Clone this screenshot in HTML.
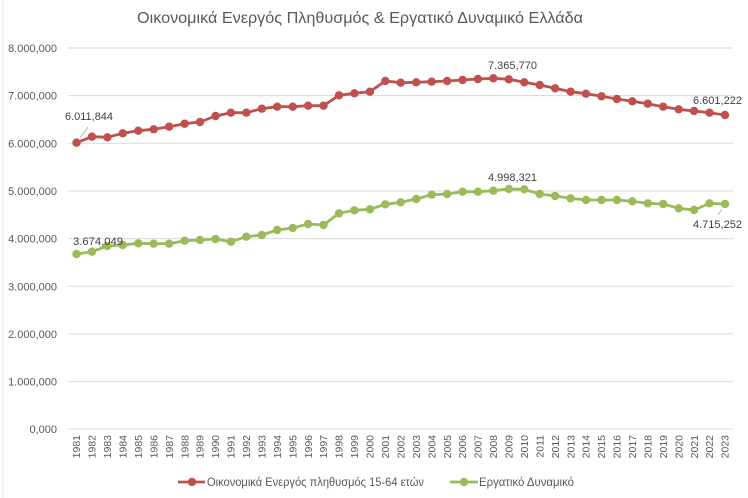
<!DOCTYPE html>
<html>
<head>
<meta charset="utf-8">
<style>
html,body{margin:0;padding:0;background:#fff;}
svg{display:block;}
text{font-family:"Liberation Sans","DejaVu Sans",sans-serif;}
</style>
</head>
<body>
<svg width="748" height="498" viewBox="0 0 748 498" xmlns="http://www.w3.org/2000/svg">
<defs>
<marker id="mr" markerUnits="userSpaceOnUse" markerWidth="10" markerHeight="10" refX="5" refY="5"><circle cx="5" cy="5" r="4.2" fill="#c0504d"/></marker>
<marker id="mg" markerUnits="userSpaceOnUse" markerWidth="10" markerHeight="10" refX="5" refY="5"><circle cx="5" cy="5" r="4.2" fill="#9bbb59"/></marker>
</defs>
<rect x="0" y="0" width="748" height="498" fill="#fff"/>
<line x1="3" y1="0" x2="3" y2="498" stroke="#e6e6e6" stroke-width="1"/>

<text x="360" y="23" text-anchor="middle" font-size="16" fill="#595959" textLength="446" lengthAdjust="spacingAndGlyphs">Οικονομικά Ενεργός Πληθυσμός &amp; Εργατικό Δυναμικό Ελλάδα</text>

<g stroke="#d9d9d9" stroke-width="1">
<line x1="68" y1="48" x2="733" y2="48"/>
<line x1="68" y1="95.6" x2="733" y2="95.6"/>
<line x1="68" y1="143.3" x2="733" y2="143.3"/>
<line x1="68" y1="191" x2="733" y2="191"/>
<line x1="68" y1="238.6" x2="733" y2="238.6"/>
<line x1="68" y1="286.3" x2="733" y2="286.3"/>
<line x1="68" y1="333.9" x2="733" y2="333.9"/>
<line x1="68" y1="381.6" x2="733" y2="381.6"/>
<line x1="68" y1="429" x2="733" y2="429"/>
</g>

<g font-size="11" fill="#595959" text-anchor="end">
<text x="57" y="52">8.000,000</text>
<text x="57" y="99.6">7.000,000</text>
<text x="57" y="147.3">6.000,000</text>
<text x="57" y="195">5.000,000</text>
<text x="57" y="242.6">4.000,000</text>
<text x="57" y="290.3">3.000,000</text>
<text x="57" y="337.9">2.000,000</text>
<text x="57" y="385.6">1.000,000</text>
<text x="57" y="433">0,000</text>
</g>

<polyline fill="none" stroke="#c0504d" stroke-width="2.8" stroke-linejoin="round" marker-start="url(#mr)" marker-mid="url(#mr)" marker-end="url(#mr)" points="76.5,142.7 91.9,136.7 107.4,137.3 122.8,133.3 138.3,130.7 153.7,129.3 169.1,126.7 184.6,123.7 200.0,122 215.5,116 230.9,112.7 246.3,112.7 261.8,108.7 277.2,106.7 292.7,106.7 308.1,105.7 323.5,105.7 339.0,95.3 354.4,93.3 369.9,91.7 385.3,81 400.7,82.7 416.2,82.3 431.6,81.7 447.1,81 462.5,80 477.9,79 493.4,78.3 508.8,79.3 524.3,82.3 539.7,85 555.1,88.3 570.6,91.7 586.0,93.7 601.5,96.3 616.9,99 632.3,101.3 647.8,103.7 663.2,106.7 678.7,109.3 694.1,111 709.5,112.7 725.0,115"/>

<polyline fill="none" stroke="#9bbb59" stroke-width="2.8" stroke-linejoin="round" marker-start="url(#mg)" marker-mid="url(#mg)" marker-end="url(#mg)" points="76.5,254 91.9,251.7 107.4,246 122.8,245 138.3,243.3 153.7,243.7 169.1,243.7 184.6,240.7 200.0,240 215.5,239 230.9,241.7 246.3,236.7 261.8,235 277.2,230 292.7,228 308.1,224 323.5,225 339.0,213.3 354.4,210.3 369.9,209.3 385.3,204.3 400.7,202.3 416.2,199 431.6,194.7 447.1,194 462.5,191.7 477.9,191.7 493.4,190.7 508.8,189 524.3,189.3 539.7,194 555.1,196 570.6,198.3 586.0,200 601.5,200 616.9,200 632.3,201.3 647.8,203.3 663.2,204 678.7,208.3 694.1,210 709.5,203.3 725.0,204"/>

<g stroke="#a6a6a6" stroke-width="0.8">
<line x1="80" y1="138" x2="88" y2="127"/>
<line x1="718" y1="215" x2="722" y2="209"/>
</g>

<g font-size="11" fill="#404040">
<text x="65" y="120" textLength="48" lengthAdjust="spacingAndGlyphs">6.011,844</text>
<text x="73" y="245" textLength="50" lengthAdjust="spacingAndGlyphs">3.674,049</text>
<text x="488" y="69" textLength="49" lengthAdjust="spacingAndGlyphs">7.365,770</text>
<text x="488" y="181" textLength="49" lengthAdjust="spacingAndGlyphs">4.998,321</text>
<text x="693" y="104" textLength="49" lengthAdjust="spacingAndGlyphs">6.601,222</text>
<text x="693" y="228" textLength="49" lengthAdjust="spacingAndGlyphs">4.715,252</text>
</g>

<g font-size="10.5" fill="#595959" text-anchor="end">
<text transform="translate(80.2,435) rotate(-90)">1981</text>
<text transform="translate(95.6,435) rotate(-90)">1982</text>
<text transform="translate(111.1,435) rotate(-90)">1983</text>
<text transform="translate(126.5,435) rotate(-90)">1984</text>
<text transform="translate(142.0,435) rotate(-90)">1985</text>
<text transform="translate(157.4,435) rotate(-90)">1986</text>
<text transform="translate(172.8,435) rotate(-90)">1987</text>
<text transform="translate(188.3,435) rotate(-90)">1988</text>
<text transform="translate(203.7,435) rotate(-90)">1989</text>
<text transform="translate(219.2,435) rotate(-90)">1990</text>
<text transform="translate(234.6,435) rotate(-90)">1991</text>
<text transform="translate(250.0,435) rotate(-90)">1992</text>
<text transform="translate(265.5,435) rotate(-90)">1993</text>
<text transform="translate(280.9,435) rotate(-90)">1994</text>
<text transform="translate(296.4,435) rotate(-90)">1995</text>
<text transform="translate(311.8,435) rotate(-90)">1996</text>
<text transform="translate(327.2,435) rotate(-90)">1997</text>
<text transform="translate(342.7,435) rotate(-90)">1998</text>
<text transform="translate(358.1,435) rotate(-90)">1999</text>
<text transform="translate(373.6,435) rotate(-90)">2000</text>
<text transform="translate(389.0,435) rotate(-90)">2001</text>
<text transform="translate(404.4,435) rotate(-90)">2002</text>
<text transform="translate(419.9,435) rotate(-90)">2003</text>
<text transform="translate(435.3,435) rotate(-90)">2004</text>
<text transform="translate(450.8,435) rotate(-90)">2005</text>
<text transform="translate(466.2,435) rotate(-90)">2006</text>
<text transform="translate(481.6,435) rotate(-90)">2007</text>
<text transform="translate(497.1,435) rotate(-90)">2008</text>
<text transform="translate(512.5,435) rotate(-90)">2009</text>
<text transform="translate(528.0,435) rotate(-90)">2010</text>
<text transform="translate(543.4,435) rotate(-90)">2011</text>
<text transform="translate(558.8,435) rotate(-90)">2012</text>
<text transform="translate(574.3,435) rotate(-90)">2013</text>
<text transform="translate(589.7,435) rotate(-90)">2014</text>
<text transform="translate(605.2,435) rotate(-90)">2015</text>
<text transform="translate(620.6,435) rotate(-90)">2016</text>
<text transform="translate(636.0,435) rotate(-90)">2017</text>
<text transform="translate(651.5,435) rotate(-90)">2018</text>
<text transform="translate(666.9,435) rotate(-90)">2019</text>
<text transform="translate(682.4,435) rotate(-90)">2020</text>
<text transform="translate(697.8,435) rotate(-90)">2021</text>
<text transform="translate(713.2,435) rotate(-90)">2022</text>
<text transform="translate(728.7,435) rotate(-90)">2023</text>
</g>

<line x1="178" y1="482" x2="205" y2="482" stroke="#c0504d" stroke-width="2.8"/>
<circle cx="192" cy="482" r="4.2" fill="#c0504d"/>
<text x="207" y="486" font-size="11.5" fill="#595959" textLength="217" lengthAdjust="spacingAndGlyphs">Οικονομικά Ενεργός πληθυσμός 15-64 ετών</text>
<line x1="450" y1="482" x2="478" y2="482" stroke="#9bbb59" stroke-width="2.8"/>
<circle cx="464" cy="482" r="4.2" fill="#9bbb59"/>
<text x="479" y="486" font-size="11.5" fill="#595959" textLength="95" lengthAdjust="spacingAndGlyphs">Εργατικό Δυναμικό</text>
</svg>
</body>
</html>
